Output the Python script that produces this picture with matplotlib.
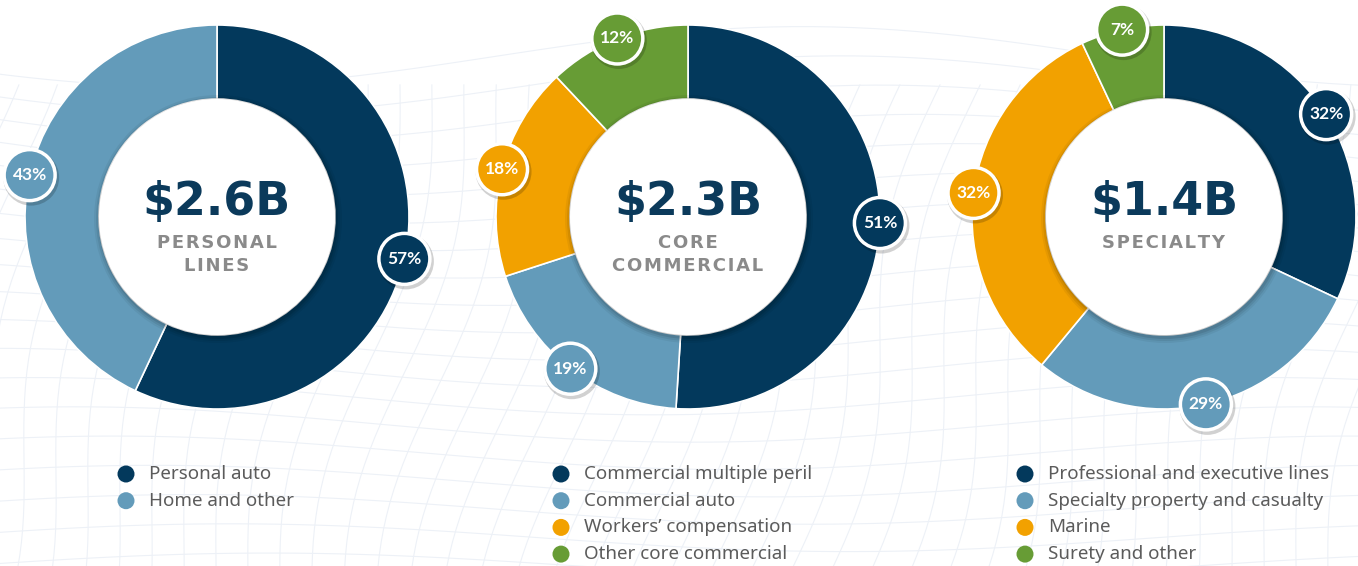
import numpy as np
import matplotlib
matplotlib.use("Agg")
import matplotlib.pyplot as plt
from matplotlib.patches import Circle

# data
TOTALS = ["$2.6B", "$2.3B", "$1.4B"]
TITLES = [["PERSONAL", "LINES"], ["CORE", "COMMERCIAL"], ["SPECIALTY"]]

personal_labels = ["Personal auto", "Home and other"]
personal_shares = [57, 43]

core_labels = ["Commercial multiple peril", "Commercial auto",
               "Workers\u2019 compensation", "Other core commercial"]
core_shares = [51, 19, 18, 12]

specialty_labels = ["Professional and executive lines", "Specialty property and casualty",
                    "Marine", "Surety and other"]
specialty_shares = [32, 29, 32, 7]

COLORS = ["#03395c", "#639bba", "#f2a100", "#679c35"]
NAVY = "#0b3a5b"
GREY_TITLE = "#8a8a8a"
GREY_TEXT = "#5b5b5b"

W, H = 1358, 566
R_OUT, R_IN = 192, 118
CENTERS_X = [217, 688, 1164]
CENTER_Y = H - 217
LEGEND_X = [126, 561, 1025]

plt.rcParams['font.family'] = ['Lato', 'DejaVu Sans']

fig = plt.figure(figsize=(W / 100, H / 100), dpi=100)
fig.patch.set_facecolor("white")
ax = fig.add_axes([0, 0, 1, 1])
ax.set_axis_off()

# faint wireframe background
mesh = "#edf1f7"
u = np.linspace(-0.1, 1.1, 80)
for k in range(20):
    v = k / 19
    xs = u * W
    ys = H * (-0.05 + 0.95 * v) + 30 * np.sin(2 * np.pi * (u * 1.1 + v * 0.6)) * (0.4 + v * 0.6)
    ax.plot(xs, ys, color=mesh, lw=0.8, zorder=0)
t = np.linspace(0, 1, 40)
for k in range(50):
    x0 = -200 + k * 36
    xs = x0 + (t - 0.5) * 120 + 20 * np.sin(2 * np.pi * (t + k / 30))
    ys = H * (-0.05 + 0.9 * t)
    ax.plot(xs, ys, color=mesh, lw=0.8, zorder=0)

groups = [(personal_labels, personal_shares),
          (core_labels, core_shares),
          (specialty_labels, specialty_shares)]

for i, (labels, shares) in enumerate(groups):
    cx = CENTERS_X[i]
    cols = COLORS[:len(shares)]
    wedges, _ = ax.pie(shares, colors=cols, startangle=90, counterclock=False,
                       center=(cx, CENTER_Y), radius=R_OUT,
                       wedgeprops=dict(width=R_OUT - R_IN, edgecolor="white", linewidth=1.2))
    for w in wedges:
        w.set_zorder(2)

    # inner white disc with soft shadow
    for s, a in [(6, 0.05), (4, 0.07), (2, 0.09)]:
        ax.add_patch(Circle((cx + 1, CENTER_Y - 2), R_IN + s, fc="black", ec="none",
                            alpha=a, zorder=3))
    ax.add_patch(Circle((cx, CENTER_Y), R_IN, fc="white", ec="none", zorder=4))

    ax.text(cx, H - 203, TOTALS[i], ha="center", va="center", fontsize=33,
            fontweight="bold", family="DejaVu Sans", color=NAVY, zorder=5)
    for j, line in enumerate(TITLES[i]):
        ax.text(cx, H - 243 - j * 23, "\u200a".join(line), ha="center", va="center",
                fontsize=13, fontweight="bold", family="DejaVu Sans",
                color=GREY_TITLE, zorder=5)

    # percentage badges
    for w, val, col in zip(wedges, shares, cols):
        mid = np.deg2rad((w.theta1 + w.theta2) / 2)
        bx = cx + R_OUT * np.cos(mid)
        by = CENTER_Y + R_OUT * np.sin(mid)
        ax.add_patch(Circle((bx + 1.5, by - 2.5), 28, fc="black", ec="none",
                            alpha=0.18, zorder=6))
        ax.add_patch(Circle((bx, by), 25.5, fc=col, ec="white", lw=2.5, zorder=7))
        ax.text(bx, by, f"{val}%", ha="center", va="center", fontsize=12.5,
                fontweight="bold", color="white", zorder=8)

    # legend
    for j, (lab, col) in enumerate(zip(labels, cols)):
        ly = H - 474 - j * 26.7
        ax.add_patch(Circle((LEGEND_X[i], ly), 8.5, fc=col, ec="none", zorder=5))
        ax.text(LEGEND_X[i] + 23, ly, lab, ha="left", va="center", fontsize=13.5,
                family="Noto Sans", color=GREY_TEXT, zorder=5)

ax.set_xlim(0, W)
ax.set_ylim(0, H)
ax.set_aspect("auto")

fig.savefig("out.png", dpi=100)
